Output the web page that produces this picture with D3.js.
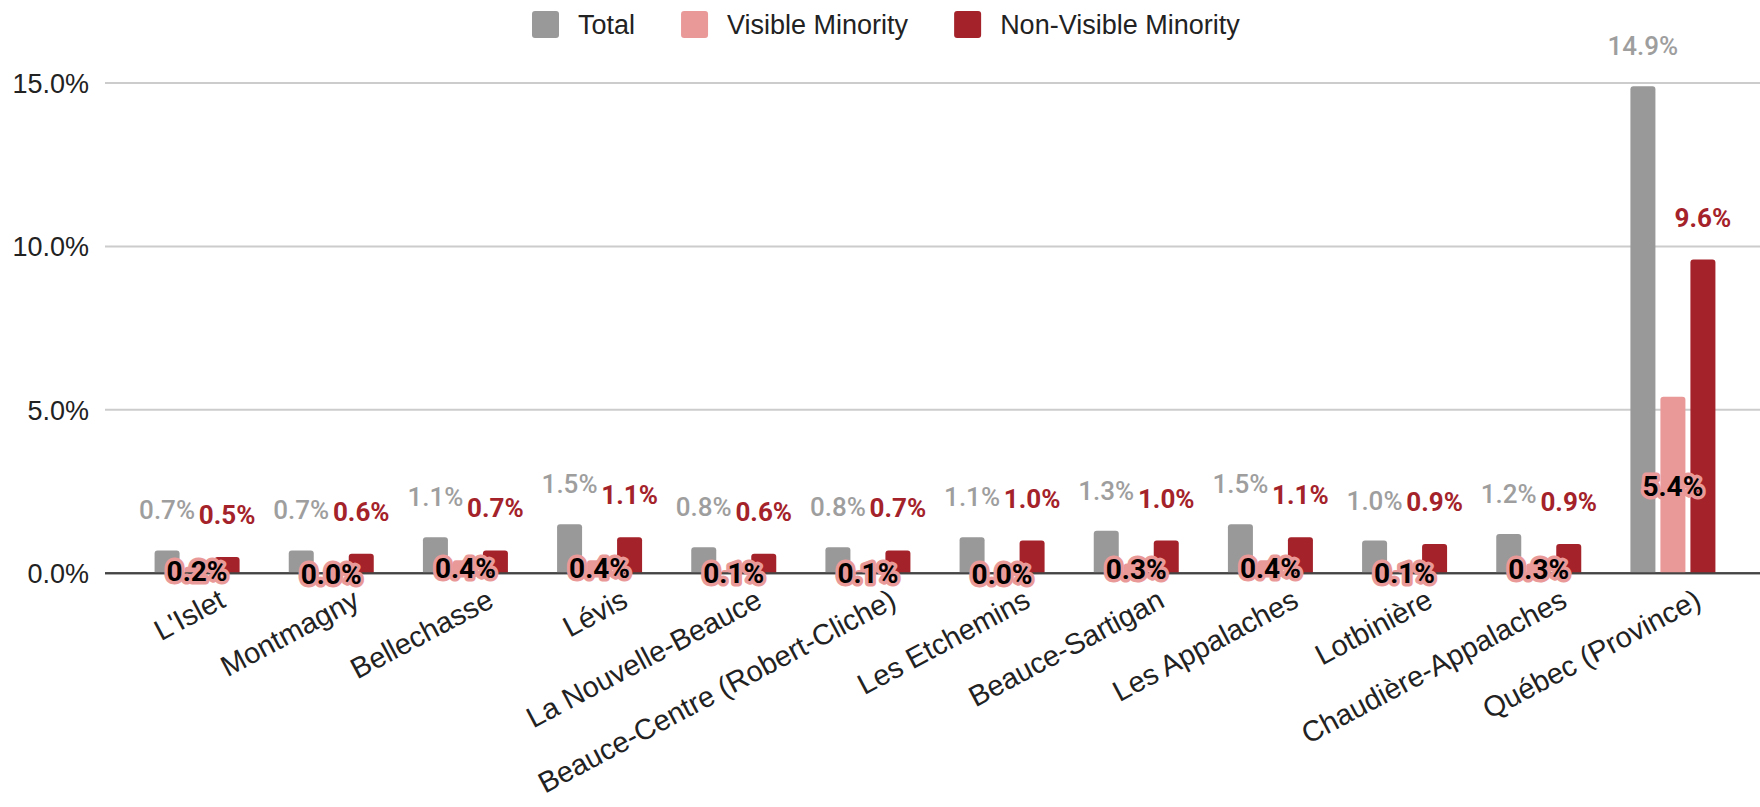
<!DOCTYPE html>
<html>
<head>
<meta charset="utf-8">
<script src="https://cdn.jsdelivr.net/npm/d3@7"></script>
<style>
  body { margin: 0; background: #fff; }
  svg { display: block; }
</style>
</head>
<body>
<div id="chart"></div>
<script>
const categories = ["L'Islet", "Montmagny", "Bellechasse", "Lévis", "La Nouvelle-Beauce",
  "Beauce-Centre (Robert-Cliche)", "Les Etchemins", "Beauce-Sartigan", "Les Appalaches",
  "Lotbinière", "Chaudière-Appalaches", "Québec (Province)"];
const totalValues = [0.7, 0.7, 1.1, 1.5, 0.8, 0.8, 1.1, 1.3, 1.5, 1.0, 1.2, 14.9];
const visibleValues = [0.2, 0.0, 0.4, 0.4, 0.1, 0.1, 0.0, 0.3, 0.4, 0.1, 0.3, 5.4];
const nonVisibleValues = [0.5, 0.6, 0.7, 1.1, 0.6, 0.7, 1.0, 1.0, 1.1, 0.9, 0.9, 9.6];
const seriesNames = ["Total", "Visible Minority", "Non-Visible Minority"];
const yTicks = [0, 5, 10, 15];

const colors = ["#999999", "#ea9999", "#a4222a"];

document.addEventListener("DOMContentLoaded", setup)

function setup() {
  const width = 1760, height = 807;
  const svg = d3.select("#chart").append("svg")
      .attr("width", width)
      .attr("height", height);

  const y = d3.scaleLinear().domain([0, 15]).range([573.3, 83]);
  const x0 = d3.scaleBand().domain(categories).range([130, 1740]);
  const x1 = d3.scaleBand().domain(seriesNames).range([0, 85]).paddingInner(5 / 30);
  const groupLeft = c => x0(c) + (x0.bandwidth() - 85) / 2;
  const groupCenter = c => x0(c) + x0.bandwidth() / 2;

  // gridlines + y labels
  const grid = svg.append("g");
  yTicks.forEach(t => {
    grid.append("line")
        .attr("x1", 105).attr("x2", width)
        .attr("y1", y(t)).attr("y2", y(t))
        .attr("stroke", t === 0 ? "#444" : "#cccccc")
        .attr("stroke-width", 2);
    grid.append("text")
        .attr("x", 89).attr("y", y(t) + 10)
        .attr("text-anchor", "end")
        .attr("font-family", "Liberation Sans, Arial, sans-serif")
        .attr("font-size", 27)
        .attr("fill", "#222")
        .text(t.toFixed(1) + "%");
  });

  const rows = categories.map((c, i) => ({
    cat: c, vals: [totalValues[i], visibleValues[i], nonVisibleValues[i]]
  }));

  // bars
  const bars = svg.append("g");
  rows.forEach(r => {
    r.vals.forEach((v, k) => {
      if (v <= 0) return;
      const bx = groupLeft(r.cat) + x1(seriesNames[k]);
      bars.append("path")
          .attr("d", topRounded(bx, y(v), x1.bandwidth(), y(0) - y(v), 3))
          .attr("fill", colors[k]);
    });
  });
  // redraw zero line on top of bars
  svg.append("line")
      .attr("x1", 105).attr("x2", width)
      .attr("y1", y(0)).attr("y2", y(0))
      .attr("stroke", "#444").attr("stroke-width", 2);

  // labels: total (gray) then non-visible (red)
  const labels = svg.append("g")
      .attr("font-family", "Roboto, sans-serif")
      .attr("font-size", 26)
      .attr("text-anchor", "middle");
  rows.forEach(r => {
    const cx = groupLeft(r.cat) + x1(seriesNames[0]) + x1.bandwidth() / 2;
    labels.append("text")
        .attr("x", cx).attr("y", y(r.vals[0]) - 31)
        .attr("fill", "#9e9e9e").attr("font-weight", 500)
        .text(r.vals[0].toFixed(1) + "%");
  });
  rows.forEach(r => {
    const cx = groupLeft(r.cat) + x1(seriesNames[2]) + x1.bandwidth() / 2;
    labels.append("text")
        .attr("x", cx).attr("y", y(r.vals[2]) - 33)
        .attr("fill", colors[2]).attr("font-weight", 700)
        .text(r.vals[2].toFixed(1) + "%");
  });
  rows.forEach(r => {
    const cx = groupLeft(r.cat) + x1(seriesNames[1]) + x1.bandwidth() / 2;
    labels.append("text")
        .attr("x", cx).attr("y", y(r.vals[1] / 2) + 11)
        .attr("font-size", 28)
        .attr("fill", "#000").attr("font-weight", 700)
        .attr("stroke", colors[1]).attr("stroke-width", 7)
        .attr("stroke-linejoin", "round")
        .attr("paint-order", "stroke")
        .text(r.vals[1].toFixed(1) + "%");
  });

  // category labels
  const xl = svg.append("g")
      .attr("font-family", "Liberation Sans, Arial, sans-serif")
      .attr("font-size", 29)
      .attr("fill", "#222")
      .attr("text-anchor", "end");
  categories.forEach(c => {
    xl.append("text")
        .attr("transform", `translate(${groupCenter(c) + 30},${606}) rotate(-28)`)
        .text(c);
  });

  // legend
  const legend = svg.append("g")
      .attr("font-family", "Liberation Sans, Arial, sans-serif")
      .attr("font-size", 27)
      .attr("fill", "#222");
  let lx = 532;
  seriesNames.forEach((s, k) => {
    legend.append("rect")
        .attr("x", lx).attr("y", 11)
        .attr("width", 27).attr("height", 27)
        .attr("rx", 3)
        .attr("fill", colors[k]);
    const t = legend.append("text")
        .attr("x", lx + 46).attr("y", 34)
        .text(s);
    lx += 46 + t.node().getComputedTextLength() + 46;
  });
}

function topRounded(x, y, w, h, r) {
  r = Math.min(r, h, w / 2);
  return `M${x},${y + h}V${y + r}Q${x},${y} ${x + r},${y}H${x + w - r}Q${x + w},${y} ${x + w},${y + r}V${y + h}Z`;
}
</script>
</body>
</html>
